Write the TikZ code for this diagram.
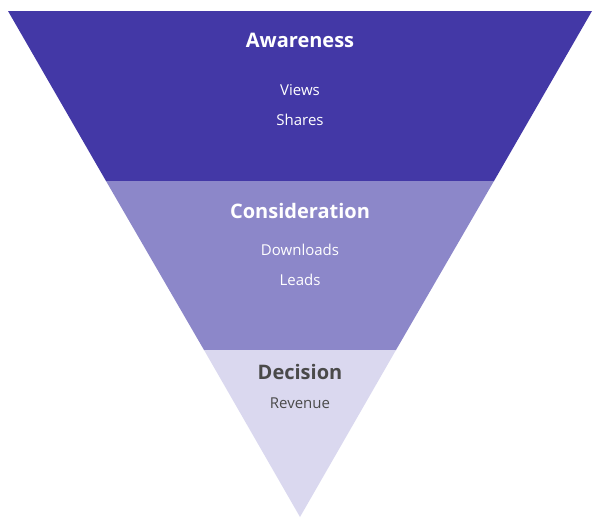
\documentclass[tikz,border=0pt]{standalone}
\usepackage{fontspec}
\setmainfont{Open Sans}
\definecolor{c1}{HTML}{4338A6}
\definecolor{c2}{HTML}{8C87C9}
\definecolor{c3}{HTML}{DAD8EF}
\definecolor{tg}{HTML}{4A4A4A}
\begin{document}
\begin{tikzpicture}[x=1pt,y=-1pt,
 title/.style={font=\bfseries\fontsize{20}{24}\selectfont,anchor=center},
 sub/.style={font=\fontsize{15}{18}\selectfont,anchor=center}]
\useasboundingbox (0,0) rectangle (600,523);
\fill[c1] (8,11) -- (592,11) -- (494,181) -- (106,181) -- cycle;
\fill[c2] (106,181) -- (494,181) -- (396,350) -- (204,350) -- cycle;
\fill[c3] (204,350) -- (396,350) -- (300,517) -- cycle;
\node[title,white] (a) at (300,40) {Awareness};
\node[sub,white] (a1) at (300,90) {Views};
\node[sub,white] (a2) at (300,120) {Shares};
\node[title,white] (b) at (300,211) {Consideration};
\node[sub,white] (b1) at (300,250) {Downloads};
\node[sub,white] (b2) at (300,280) {Leads};
\node[title,tg] (c) at (300,372) {Decision};
\node[sub,tg] (c1) at (300,403) {Revenue};
\end{tikzpicture}
\end{document}
